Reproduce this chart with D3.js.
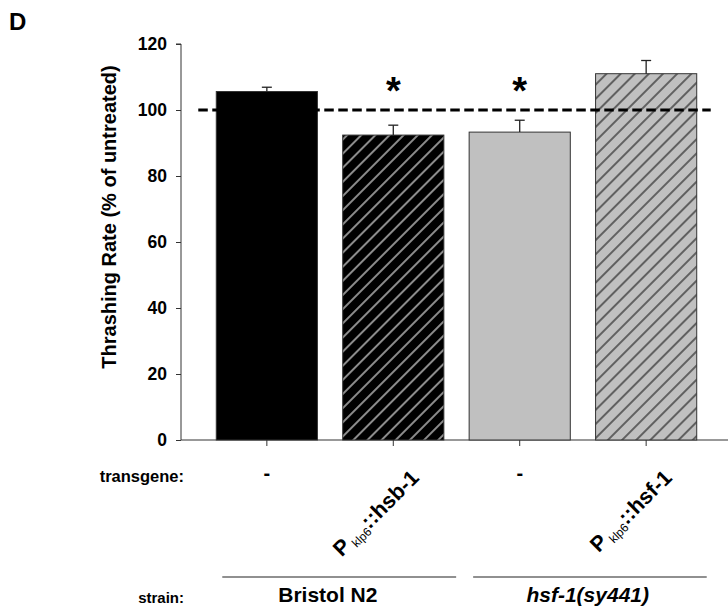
<!DOCTYPE html>
<html><head><meta charset="utf-8">
<script src="https://cdn.jsdelivr.net/npm/d3@7"></script>
<style>
body{margin:0;background:#fff;}
text{font-family:"Liberation Sans",Arial,sans-serif;font-weight:bold;fill:#000;}
</style></head>
<body><svg id="c" width="728" height="608"></svg>
<script>
// ---- data ----
const categories = ["N2", "N2 + Pklp6::hsb-1", "hsf-1", "hsf-1 + Pklp6::hsf-1"];
const values = [105.6, 92.4, 93.3, 111.0];
const errors = [1.3, 3.0, 3.6, 4.0];
const significant = [false, true, true, false];
const transgenePrefix = ["-", "P", "-", "P"];
const transgeneSub = ["", "klp6", "", "klp6"];
const transgeneSuffix = ["", "::hsb-1", "", "::hsf-1"];
const strains = ["Bristol N2", "hsf-1(sy441)"];
const strainItalic = [false, true];
const yTicks = [0, 20, 40, 60, 80, 100, 120];
const refValue = 100;

const svg = d3.select("#c");
const defs = svg.append("defs");
function hatch(id, bg, fg){
  const p = defs.append("pattern").attr("id", id).attr("patternUnits","userSpaceOnUse")
    .attr("width", 10).attr("height", 10).attr("patternTransform","rotate(45)");
  p.append("rect").attr("width",10).attr("height",10).attr("fill",bg);
  p.append("line").attr("x1",1).attr("y1",0).attr("x2",1).attr("y2",10).attr("stroke",fg).attr("stroke-width",1.1);
}
hatch("hBlack", "#000", "#fff");
hatch("hGray", "#c0c0c0", "#111");
const fills = ["#000", "url(#hBlack)", "#c0c0c0", "url(#hGray)"];

const x = d3.scaleBand().domain(categories).range([181, 732]).paddingInner(0.2).paddingOuter(0.279);
const y = d3.scaleLinear().domain([0, 120]).range([440, 44]);
const bw = x.bandwidth();
const cx = i => x(categories[i]) + bw/2;

// y axis
const yAxis = svg.append("g").attr("transform","translate(181,0)")
  .call(d3.axisLeft(y).tickValues(yTicks).tickSize(5).tickPadding(9));
yAxis.select(".domain").attr("stroke","#333").attr("d","M-5,"+y(120)+"H0V"+y(0));
yAxis.selectAll(".tick line").attr("stroke","#333");
yAxis.selectAll(".tick text").style("font-size","17.5px").style("font-weight","bold").attr("fill","#000")
  .style("font-family","'Liberation Sans',Arial,sans-serif");

// x axis
svg.append("line").attr("x1",181).attr("x2",728).attr("y1",y(0)).attr("y2",y(0)).attr("stroke","#333");
svg.selectAll(".xt").data(categories).enter().append("line")
  .attr("x1", d=>x(d)+bw/2).attr("x2", d=>x(d)+bw/2).attr("y1", y(0)).attr("y2", y(0)+6).attr("stroke","#333");

// bars
svg.selectAll(".bar").data(categories).enter().append("rect")
  .attr("x", d=>x(d)).attr("width", bw)
  .attr("y", (d,i)=>y(values[i])).attr("height", (d,i)=>y(0)-y(values[i]))
  .attr("fill", (d,i)=>fills[i]).attr("stroke","#333").attr("stroke-width",1);

// error bars (upper only)
categories.forEach((c,i)=>{
  const px = cx(i);
  svg.append("line").attr("x1",px).attr("x2",px).attr("y1",y(values[i])).attr("y2",y(values[i]+errors[i])).attr("stroke","#222").attr("stroke-width",1.3);
  svg.append("line").attr("x1",px-5).attr("x2",px+5).attr("y1",y(values[i]+errors[i])).attr("y2",y(values[i]+errors[i])).attr("stroke","#222").attr("stroke-width",1.3);
});

// reference dashed line
svg.append("line").attr("x1", x(categories[0])-18).attr("x2", x(categories[3])+bw+14)
  .attr("y1", y(refValue)).attr("y2", y(refValue))
  .attr("stroke","#000").attr("stroke-width",2.8).attr("stroke-dasharray","9.5,4.5");

// significance asterisks
categories.forEach((c,i)=>{
  if(significant[i]) svg.append("text").attr("x", cx(i)).attr("y", 104)
    .attr("text-anchor","middle").style("font-size","38px").text("*");
});

// transgene labels
svg.append("text").attr("x",184).attr("y",482).attr("text-anchor","end").style("font-size","16.5px").text("transgene:");
categories.forEach((c,i)=>{
  const px = cx(i);
  if(transgeneSub[i]===""){
    svg.append("text").attr("x",px).attr("y",480).attr("text-anchor","middle").style("font-size","20px").text(transgenePrefix[i]);
  } else {
    const t = svg.append("text").attr("text-anchor","end")
      .attr("transform","translate("+(px+27)+",479) rotate(-45)")
      .style("font-size","21.5px");
    t.append("tspan").text(transgenePrefix[i]);
    t.append("tspan").attr("dy",4).attr("dx",3).style("font-size","12px").style("font-weight","normal").text(transgeneSub[i]);
    t.append("tspan").attr("dy",-4).text(transgeneSuffix[i]);
  }
});

// strain labels
svg.append("text").attr("x",184).attr("y",603).attr("text-anchor","end").style("font-size","15px").text("strain:");
const groupLines = [[x(categories[0])+6, x(categories[2])-13],[x(categories[2])+4, x(categories[3])+bw+10]];
const groupText = [cx(0)+61, cx(2)+68];
strains.forEach((s,i)=>{
  svg.append("line").attr("x1",groupLines[i][0]).attr("x2",groupLines[i][1]).attr("y1",577).attr("y2",577).attr("stroke","#222").attr("stroke-width",1.2);
  svg.append("text").attr("x",groupText[i]).attr("y",602).attr("text-anchor","middle").style("font-size","21px")
    .style("font-style", strainItalic[i]?"italic":"normal").text(s);
});

// y title
svg.append("text").attr("transform","translate(116,217) rotate(-90)").attr("text-anchor","middle")
  .style("font-size","20px").text("Thrashing Rate (% of untreated)");

// panel letter
svg.append("text").attr("x",9).attr("y",30).style("font-size","24px").text("D");
</script></body></html>
